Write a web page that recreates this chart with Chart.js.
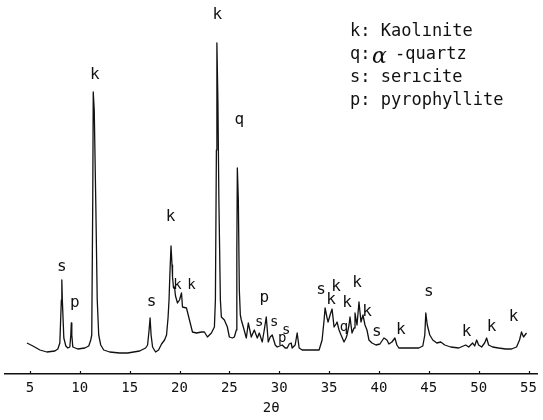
<!DOCTYPE html>
<html>
<head>
<meta charset="utf-8">
<script src="https://cdn.jsdelivr.net/npm/chart.js@4.4.1/dist/chart.umd.min.js"></script>
<style>
  html, body { margin: 0; padding: 0; background: #fff; }
  #wrap { width: 543px; height: 420px; }
</style>
</head>
<body>
<div id="wrap"><canvas id="xrd"></canvas></div>
<script>
// diffraction trace, 2-theta (deg) vs intensity (arbitrary units)
const twoTheta = [
  4.7, 5.3, 6.0, 6.7, 7.5, 7.8, 8.0, 8.15, 8.2, 8.25, 8.4, 8.6, 8.8, 9.0, 9.1, 9.15, 9.2, 9.3, 9.8,
  10.5, 10.9, 11.1, 11.2, 11.3, 11.35, 11.45, 11.6, 11.75, 11.9, 12.1, 12.4, 13.0, 14.0, 14.8,
  16.0, 16.6, 16.8, 16.95, 17.05, 17.15, 17.3, 17.6, 17.9, 18.2, 18.5, 18.7, 18.85, 18.95, 19.05,
  19.15, 19.25, 19.3, 19.4, 19.5, 19.6, 19.8, 20.0, 20.2, 20.3, 20.7, 21.0, 21.3, 21.7, 22.2, 22.5,
  22.8, 23.2, 23.5, 23.6, 23.7, 23.75, 23.85, 23.95, 24.1, 24.2, 24.5, 24.8, 25.0, 25.3, 25.5, 25.7,
  25.75, 25.8, 25.9, 26.0, 26.1, 26.2, 26.4, 26.7, 26.9, 27.2, 27.5, 27.8, 28.0, 28.3, 28.5, 28.7,
  28.9, 29.1, 29.3, 29.6, 29.8, 30.3, 30.6, 30.8, 31.0, 31.2, 31.3, 31.6, 31.8, 32.0, 32.3, 33.0,
  34.0, 34.3, 34.5, 34.6, 34.8, 34.9, 35.1, 35.3, 35.5, 35.7, 35.8, 36.0, 36.2, 36.5, 36.7, 36.8,
  37.0, 37.1, 37.3, 37.5, 37.6, 37.8, 38.0, 38.2, 38.4, 38.6, 38.8, 39.0, 39.3, 39.7, 40.1, 40.5,
  40.8, 41.0, 41.3, 41.6, 41.8, 42.0, 43.0, 44.0, 44.4, 44.6, 44.7, 44.85, 45.1, 45.4, 45.8, 46.2,
  46.6, 47.2, 48.0, 48.7, 49.0, 49.4, 49.6, 49.8, 50.0, 50.3, 50.6, 50.8, 51.0, 51.4, 52.0, 52.7,
  53.3, 53.8, 54.1, 54.3, 54.5, 54.8
];
const counts = [
  31, 28, 24, 22, 23, 25, 31, 74, 94, 74, 36, 28, 26, 27, 39, 51, 39, 27, 25,
  26, 28, 34, 39, 174, 282, 264, 174, 74, 39, 29, 24, 22, 21, 21,
  23, 26, 29, 44, 56, 39, 27, 22, 24, 30, 34, 39, 56, 74, 104,
  128, 109, 97, 86, 87, 78, 71, 74, 81, 67, 66, 54, 42, 41, 42, 42,
  37, 41, 47, 74, 224, 331, 274, 174, 74, 57, 54, 47, 37, 36, 37, 44,
  124, 206, 174, 84, 59, 54, 47, 36, 51, 37, 44, 36, 41, 32, 44, 57,
  32, 37, 39, 29, 27, 29, 26, 26, 30, 31, 26, 29, 41, 26, 24, 24,
  24, 34, 54, 66, 56, 52, 59, 65, 47, 50, 52, 44, 39, 32, 36, 39,
  49, 57, 41, 46, 61, 49, 72, 52, 59, 49, 44, 34, 31, 29, 30, 36,
  34, 30, 32, 36, 29, 26, 26, 26, 28, 39, 61, 49, 39, 34, 31, 32,
  29, 27, 26, 29, 27, 31, 28, 34, 29, 27, 31, 36, 29, 27, 26, 25,
  25, 27, 34, 42, 37, 41
];

// x axis ticks
const tickLabels = [5, 10, 15, 20, 25, 30, 35, 40, 45, 50, 55];

// phase marks above the peaks
const peakText  = ['s', 'p', 'k', 's', 'k', 'k', 'k', 'k', 'q', 'p', 's', 's', 'p', 's',
                   's', 'k', 'k', 'q', 'k', 'k', 'k', 's', 'k', 's', 'k', 'k', 'k'];
const peakTheta = [8.2, 9.5, 11.5, 17.2, 19.1, 19.8, 21.2, 23.8, 26.0, 28.5, 28.0, 29.5, 30.3, 30.7,
                   34.2, 35.7, 35.2, 36.5, 36.8, 37.8, 38.8, 39.8, 42.2, 45.0, 48.8, 51.3, 53.5];
const peakCount = [107, 71, 299, 72, 157, 89, 89, 359, 254, 76, 52, 52, 36, 44,
                   84, 87, 74, 47, 71, 91, 62, 42, 44, 82, 42, 47, 57];
const peakSmall = [0, 0, 0, 0, 0, 1, 1, 0, 0, 0, 1, 1, 1, 1,
                   0, 0, 0, 1, 0, 0, 0, 0, 0, 0, 0, 0, 0];

const legendRows = ['k: Kaolınite', 'q:', 's: serıcite', 'p: pyrophyllite'];

const points = twoTheta.map((t, i) => ({ x: t, y: counts[i] }));

const mono = '"DejaVu Sans Mono", monospace';

const decorations = {
  id: 'decorations',
  afterDraw(chart) {
    const ctx = chart.ctx;
    const xs = chart.scales.x;
    const ys = chart.scales.y;
    const base = chart.chartArea.bottom;
    ctx.save();
    ctx.strokeStyle = '#111';
    ctx.lineWidth = 1.2;
    // little tick marks standing on the axis line
    tickLabels.forEach(v => {
      const px = Math.round(xs.getPixelForValue(v)) + 0.5;
      ctx.beginPath();
      ctx.moveTo(px, base);
      ctx.lineTo(px, base - 3);
      ctx.stroke();
    });

    ctx.fillStyle = '#111';
    ctx.textAlign = 'center';
    ctx.textBaseline = 'middle';
    peakText.forEach((s, i) => {
      ctx.font = (peakSmall[i] ? '14px ' : '16px ') + mono;
      ctx.fillText(s, xs.getPixelForValue(peakTheta[i]), ys.getPixelForValue(peakCount[i]));
    });

    // key
    ctx.textAlign = 'left';
    ctx.textBaseline = 'alphabetic';
    ctx.font = '17px ' + mono;
    const rowY = [36, 59, 82, 105];
    legendRows.forEach((s, i) => ctx.fillText(s, 350, rowY[i]));
    ctx.fillText('-quartz', 395, rowY[1]);
    ctx.font = 'italic 22px "DejaVu Serif", serif';
    ctx.fillText('α', 372, rowY[1] + 4);
    ctx.restore();
  }
};

new Chart(document.getElementById('xrd'), {
  type: 'line',
  data: {
    datasets: [{
      data: points,
      borderColor: '#111',
      borderWidth: 1.3,
      pointRadius: 0,
      tension: 0,
      fill: false,
      borderJoinStyle: 'round'
    }]
  },
  options: {
    responsive: true,
    maintainAspectRatio: false,
    animation: false,
    layout: { padding: { left: 5, right: 4, top: 10, bottom: 0 } },
    plugins: { legend: { display: false }, tooltip: { enabled: false } },
    scales: {
      x: {
        type: 'linear',
        min: 2.5,
        max: 55.9,
        afterBuildTicks: (scale) => { scale.ticks = tickLabels.map(v => ({ value: v })); },
        afterFit: (scale) => { scale.height = 46; },
        grid: { display: false, drawTicks: false },
        border: { display: true, color: '#111', width: 1.6 },
        ticks: { color: '#111', font: { family: mono, size: 14 }, padding: 6, maxRotation: 0, autoSkip: false },
        title: { display: true, text: '2θ', color: '#111', font: { family: mono, size: 14 }, padding: { top: 0, bottom: 3 } }
      },
      y: {
        display: false,
        min: 0,
        max: 364
      }
    }
  },
  plugins: [decorations]
});
</script>
</body>
</html>
